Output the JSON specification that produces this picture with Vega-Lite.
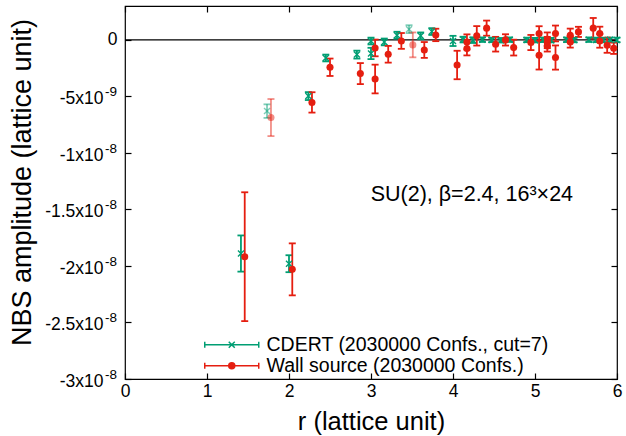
{
  "$schema": "https://vega.github.io/schema/vega-lite/v6.json",
  "width": 492,
  "height": 373,
  "autosize": {"type": "none"},
  "padding": {"left": 125, "top": 6, "right": 9, "bottom": 57},
  "background": "white",
  "config": {
    "font": "Liberation Sans",
    "view": {"stroke": "#000", "strokeWidth": 1.2},
    "axis": {"domain": false, "grid": false, "tickColor": "#000", "tickSize": -6, "tickWidth": 1.2, "labelColor": "#000", "titleColor": "#000", "labelFont": "Liberation Sans", "titleFont": "Liberation Sans", "titleFontWeight": "normal", "labelFontSize": 17.5, "titleFontSize": 27, "labelFlush": false}
  },
  "data": {"values": [
    {"s":"C","r":1.414,"v":-1.89e-8,"e":1.6e-9,"d":0},
    {"s":"C","r":1.732,"v":-6.3e-9,"e":6e-10,"d":1},
    {"s":"C","r":2.0,"v":-1.98e-8,"e":7.5e-10,"d":0},
    {"s":"C","r":2.236,"v":-4.97e-9,"e":3.5e-10,"d":0},
    {"s":"C","r":2.449,"v":-1.6e-9,"e":3e-10,"d":0},
    {"s":"C","r":2.828,"v":-1.3e-9,"e":3.5e-10,"d":0},
    {"s":"C","r":3.0,"v":-1e-10,"e":3e-10,"d":0},
    {"s":"C","r":3.0,"v":-1.2e-9,"e":5e-10,"d":0},
    {"s":"C","r":3.162,"v":-1.8e-10,"e":3e-10,"d":0},
    {"s":"C","r":3.317,"v":4.2e-10,"e":3e-10,"d":0},
    {"s":"C","r":3.464,"v":9.5e-10,"e":3.5e-10,"d":1},
    {"s":"C","r":3.606,"v":3.6e-10,"e":3e-10,"d":0},
    {"s":"C","r":3.742,"v":7.4e-10,"e":3e-10,"d":0},
    {"s":"C","r":4.0,"v":-9e-11,"e":4.5e-10,"d":0},
    {"s":"C","r":4.123,"v":3e-11,"e":2.5e-10,"d":0},
    {"s":"C","r":4.243,"v":-2e-11,"e":2.5e-10,"d":0},
    {"s":"C","r":4.359,"v":2e-11,"e":2e-10,"d":0},
    {"s":"C","r":4.472,"v":0,"e":2e-10,"d":0},
    {"s":"C","r":4.583,"v":-3e-11,"e":2e-10,"d":0},
    {"s":"C","r":4.69,"v":2e-11,"e":2e-10,"d":0},
    {"s":"C","r":4.899,"v":0,"e":2e-10,"d":0},
    {"s":"C","r":5.0,"v":-2e-11,"e":2e-10,"d":0},
    {"s":"C","r":5.099,"v":1e-11,"e":2e-10,"d":0},
    {"s":"C","r":5.196,"v":-2e-11,"e":2e-10,"d":0},
    {"s":"C","r":5.385,"v":1e-11,"e":2e-10,"d":0},
    {"s":"C","r":5.477,"v":-1e-11,"e":2e-10,"d":0},
    {"s":"C","r":5.657,"v":2e-11,"e":2e-10,"d":0},
    {"s":"C","r":5.745,"v":0,"e":2e-10,"d":0},
    {"s":"C","r":5.831,"v":-1e-11,"e":2e-10,"d":0},
    {"s":"C","r":5.916,"v":1e-11,"e":2e-10,"d":0},
    {"s":"C","r":6.0,"v":0,"e":2e-10,"d":0},
    {"s":"W","r":1.46,"v":-1.918e-8,"e":5.7e-9,"d":0},
    {"s":"W","r":1.78,"v":-6.87e-9,"e":1.64e-9,"d":1},
    {"s":"W","r":2.04,"v":-2.03e-8,"e":2.3e-9,"d":0},
    {"s":"W","r":2.28,"v":-5.53e-9,"e":9e-10,"d":0},
    {"s":"W","r":2.5,"v":-2.42e-9,"e":7.7e-10,"d":0},
    {"s":"W","r":2.87,"v":-2.98e-9,"e":9.3e-10,"d":0},
    {"s":"W","r":3.05,"v":-7.1e-10,"e":7.4e-10,"d":0},
    {"s":"W","r":3.05,"v":-3.46e-9,"e":1.27e-9,"d":0},
    {"s":"W","r":3.21,"v":-1.27e-9,"e":7.4e-10,"d":0},
    {"s":"W","r":3.37,"v":-9e-11,"e":7e-10,"d":0},
    {"s":"W","r":3.51,"v":-4.4e-10,"e":1.1e-9,"d":1},
    {"s":"W","r":3.65,"v":-8.9e-10,"e":7e-10,"d":0},
    {"s":"W","r":3.79,"v":4.4e-10,"e":5.5e-10,"d":0},
    {"s":"W","r":4.05,"v":-2.22e-9,"e":1.26e-9,"d":0},
    {"s":"W","r":4.17,"v":-1.8e-10,"e":6.7e-10,"d":0},
    {"s":"W","r":4.17,"v":-7.7e-10,"e":6e-10,"d":0},
    {"s":"W","r":4.29,"v":3.6e-10,"e":8.6e-10,"d":0},
    {"s":"W","r":4.41,"v":1.04e-9,"e":6.7e-10,"d":0},
    {"s":"W","r":4.52,"v":-3.8e-10,"e":6.5e-10,"d":0},
    {"s":"W","r":4.64,"v":0,"e":5e-10,"d":0},
    {"s":"W","r":4.74,"v":-6.8e-10,"e":7e-10,"d":0},
    {"s":"W","r":4.95,"v":-2.3e-10,"e":6.7e-10,"d":0},
    {"s":"W","r":5.05,"v":5.7e-10,"e":6.4e-10,"d":0},
    {"s":"W","r":5.05,"v":-1.36e-9,"e":1.26e-9,"d":0},
    {"s":"W","r":5.15,"v":6e-11,"e":6e-10,"d":0},
    {"s":"W","r":5.15,"v":-2.3e-10,"e":5e-10,"d":0},
    {"s":"W","r":5.15,"v":-5.3e-10,"e":5e-10,"d":0},
    {"s":"W","r":5.25,"v":5.7e-10,"e":7e-10,"d":0},
    {"s":"W","r":5.25,"v":-1.56e-9,"e":1.07e-9,"d":0},
    {"s":"W","r":5.43,"v":4e-10,"e":6e-10,"d":0},
    {"s":"W","r":5.43,"v":-1.8e-10,"e":5e-10,"d":0},
    {"s":"W","r":5.53,"v":7.1e-10,"e":4.5e-10,"d":0},
    {"s":"W","r":5.71,"v":1.04e-9,"e":9e-10,"d":0},
    {"s":"W","r":5.79,"v":5.7e-10,"e":6e-10,"d":0},
    {"s":"W","r":5.79,"v":-9e-11,"e":6e-10,"d":0},
    {"s":"W","r":5.88,"v":-4.7e-10,"e":6.7e-10,"d":0},
    {"s":"W","r":5.96,"v":-7.4e-10,"e":5e-10,"d":0}
  ]},
  "layer": [
    {
      "data": {"values": [{}]},
      "mark": {"type": "rule", "color": "#000", "strokeWidth": 1.2},
      "encoding": {
        "y": {"datum": 0, "type": "quantitative", "scale": {"domain": [-3e-8, 3e-9], "nice": false, "zero": false}, "axis": null}
      }
    },
    {
      "mark": {"type": "errorbar", "ticks": true, "size": 7, "thickness": 1.8},
      "encoding": {
        "x": {"field": "r", "type": "quantitative", "scale": {"domain": [0, 6], "nice": false, "zero": false},
              "axis": {"orient": "bottom", "values": [0,1,2,3,4,5,6], "format": "d", "title": "r (lattice unit)", "labelPadding": 9, "titleFontSize": 25.5, "titleY": 50, "titleBaseline": "alphabetic"}},
        "y": {"field": "v", "type": "quantitative", "scale": {"domain": [-3e-8, 3e-9], "nice": false, "zero": false},
              "axis": {"orient": "left", "values": [-3e-8,-2.5e-8,-2e-8,-1.5e-8,-1e-8,-5e-9,0], "title": "NBS amplitude (lattice unit)", "labelPadding": 14, "titleX": -103, "titleY": 176, "titleBaseline": "middle",
                       "labelExpr": "round(datum.value*1e10) == 0 ? '0' : ''"}},
        "yError": {"field": "e"},
        "color": {"field": "s", "type": "nominal", "scale": {"domain": ["C", "W"], "range": ["#009e73", "#e51e10"]},
                  "legend": {"orient": "none", "legendX": 97, "legendY": 329, "title": null, "padding": 0, "rowPadding": 0,
                             "labelExpr": "datum.label == 'C' ? 'CDERT (2030000 Confs., cut=7)' : 'Wall source (2030000 Confs.)'",
                             "labelFontSize": 19.5, "labelColor": "#000", "labelFont": "Liberation Sans", "labelLimit": 500,
                             "symbolSize": 100, "symbolStrokeWidth": 1.5, "labelOffset": 25,
                             "encoding": {"symbols": {
                               "shape": {"condition": {"test": "datum.value == 'C'", "value": "M-5.4,0H5.4M-5.4,-0.6V0.6M5.4,-0.6V0.6M-0.6,-0.6L0.6,0.6M-0.6,0.6L0.6,-0.6"}, "value": "M-5.4,0H5.4M-5.4,-0.6V0.6M5.4,-0.6V0.6M-0.6,0A0.6,0.6 0 1,0 0.6,0A0.6,0.6 0 1,0 -0.6,0Z"},
                               "fill": {"condition": {"test": "datum.value == 'C'", "value": "transparent"}, "value": "#e51e10"},
                               "stroke": {"condition": {"test": "datum.value == 'C'", "value": "#009e73"}, "value": "#e51e10"},
                               "opacity": {"value": 1}
                             }}}},
        "opacity": {"field": "d", "type": "quantitative", "scale": {"domain": [0, 1], "range": [1, 0.5]}, "legend": null}
      }
    },
    {
      "transform": [{"filter": "datum.s == 'C'"}],
      "mark": {"type": "point", "shape": "M-1,-1L1,1M-1,1L1,-1", "filled": false, "size": 36, "strokeWidth": 1.4, "color": "#009e73"},
      "encoding": {
        "x": {"field": "r", "type": "quantitative", "scale": {"domain": [0, 6], "nice": false, "zero": false}, "axis": null},
        "y": {"field": "v", "type": "quantitative", "scale": {"domain": [-3e-8, 3e-9], "nice": false, "zero": false}, "axis": null},
        "opacity": {"field": "d", "type": "quantitative", "scale": {"domain": [0, 1], "range": [1, 0.5]}, "legend": null}
      }
    },
    {
      "transform": [{"filter": "datum.s == 'W'"}],
      "mark": {"type": "point", "shape": "circle", "filled": true, "size": 50, "color": "#e51e10"},
      "encoding": {
        "x": {"field": "r", "type": "quantitative", "scale": {"domain": [0, 6], "nice": false, "zero": false}, "axis": null},
        "y": {"field": "v", "type": "quantitative", "scale": {"domain": [-3e-8, 3e-9], "nice": false, "zero": false}, "axis": null},
        "opacity": {"field": "d", "type": "quantitative", "scale": {"domain": [0, 1], "range": [1, 0.5]}, "legend": null}
      }
    },
    {
      "data": {"values": [{}]},
      "mark": {"type": "text", "fontSize": 21.5, "font": "Liberation Sans", "color": "#000", "align": "center", "baseline": "middle"},
      "encoding": {
        "x": {"datum": 4.23, "type": "quantitative", "scale": {"domain": [0, 6], "nice": false, "zero": false}, "axis": null},
        "y": {"datum": -1.37e-8, "type": "quantitative", "scale": {"domain": [-3e-8, 3e-9], "nice": false, "zero": false}, "axis": null},
        "text": {"value": "SU(2), β=2.4, 16³×24"}
      }
    },
    {
      "data": {"name": "ylab", "values": [
        {"v": -5e-9, "m": "-5x10", "p": "-9"},
        {"v": -1e-8, "m": "-1x10", "p": "-8"},
        {"v": -1.5e-8, "m": "-1.5x10", "p": "-8"},
        {"v": -2e-8, "m": "-2x10", "p": "-8"},
        {"v": -2.5e-8, "m": "-2.5x10", "p": "-8"},
        {"v": -3e-8, "m": "-3x10", "p": "-8"}
      ]},
      "layer": [
        {
          "mark": {"type": "text", "fontSize": 17.5, "font": "Liberation Sans", "color": "#000", "align": "right", "baseline": "middle", "dx": -21.5, "dy": 3},
          "encoding": {
            "x": {"datum": 0, "type": "quantitative", "scale": {"domain": [0, 6], "nice": false, "zero": false}, "axis": null},
            "y": {"field": "v", "type": "quantitative", "scale": {"domain": [-3e-8, 3e-9], "nice": false, "zero": false}, "axis": null},
            "text": {"field": "m"}
          }
        },
        {
          "mark": {"type": "text", "fontSize": 13.5, "font": "Liberation Sans", "color": "#000", "align": "right", "baseline": "middle", "dx": -8, "dy": -4},
          "encoding": {
            "x": {"datum": 0, "type": "quantitative", "scale": {"domain": [0, 6], "nice": false, "zero": false}, "axis": null},
            "y": {"field": "v", "type": "quantitative", "scale": {"domain": [-3e-8, 3e-9], "nice": false, "zero": false}, "axis": null},
            "text": {"field": "p"}
          }
        }
      ]
    },
    {
      "data": {"values": [{}]},
      "mark": {"type": "point", "opacity": 0},
      "encoding": {
        "x": {"datum": 0, "type": "quantitative", "scale": {"domain": [0, 6], "nice": false, "zero": false},
              "axis": {"orient": "top", "values": [0,1,2,3,4,5,6], "labels": false, "title": null}},
        "y": {"datum": 0, "type": "quantitative", "scale": {"domain": [-3e-8, 3e-9], "nice": false, "zero": false},
              "axis": {"orient": "right", "values": [-3e-8,-2.5e-8,-2e-8,-1.5e-8,-1e-8,-5e-9,0], "labels": false, "title": null}}
      }
    }
  ],
  "resolve": {"axis": {"x": "independent", "y": "independent"}}
}
